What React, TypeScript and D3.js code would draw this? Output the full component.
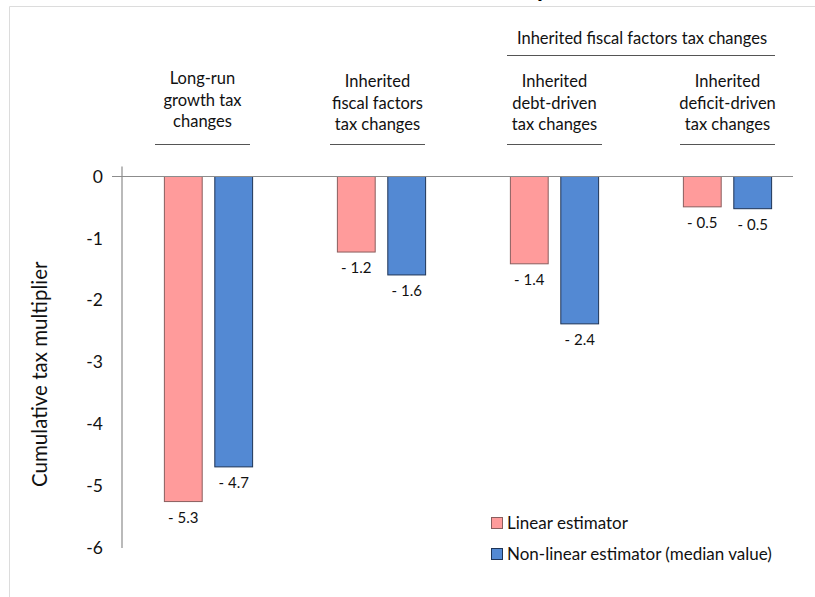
import React from "react";
import * as d3 from "d3";

const groups = ["longrun", "fiscal", "debt", "deficit"];
const groupLabels = [
    ["Long-run", "growth tax", "changes"],
    ["Inherited", "fiscal factors", "tax changes"],
    ["Inherited", "debt-driven", "tax changes"],
    ["Inherited", "deficit-driven", "tax changes"],
];
const superLabel = "Inherited fiscal factors tax changes";

const seriesNames = ["Linear estimator", "Non-linear estimator (median value)"];
const linearValues = [-5.25, -1.22, -1.41, -0.49];
const nonLinearValues = [-4.69, -1.59, -2.38, -0.52];
const yTicks = [0, -1, -2, -3, -4, -5, -6];

const colors = [
    {fill: "#FF9B9B", stroke: "#8A5E5E"},
    {fill: "#5389D3", stroke: "#1E3456"},
];

const W = 815;
const H = 597;
const font = "Lato, 'Open Sans', sans-serif";

const App: React.FC = () => {
    const x0 = d3.scaleBand<string>()
        .domain(groups)
        .range([122, 814])
        .paddingInner(0.49)
        .paddingOuter(0.245);

    const x1 = d3.scaleBand<number>()
        .domain([0, 1])
        .range([0, x0.bandwidth()])
        .paddingInner(0.25);

    const y = d3.scaleLinear().domain([0, -6]).range([176.5, 548]);

    const series = [linearValues, nonLinearValues];
    const fmt = (v: number) => "- " + Math.abs(v).toFixed(1);

    const axisX = 122;
    const underlineY = 144;
    const underW = 95;

    const c3 = x0(groups[2])! + x0.bandwidth() / 2;
    const c4 = x0(groups[3])! + x0.bandwidth() / 2;

    return (
        <div style={{position: "absolute", left: 0, top: 0}}>
            <svg width={W} height={H} style={{display: "block", background: "#fff"}}>
                {/* frame, with the foot of the cropped title showing above it */}
                <line x1={9.5} x2={W} y1={6.5} y2={6.5} stroke="#dcdcdc"/>
                <line x1={9.5} x2={9.5} y1={6.5} y2={H} stroke="#dcdcdc"/>
                <text x={537} y={-3} fontFamily={font} fontWeight="bold" fontSize={24} fill="#000">p</text>

                {/* super header */}
                <text x={(c3 + c4) / 2 + 1} y={44} textAnchor="middle" fontFamily={font} fontSize={16.5}
                      fill="#111">{superLabel}</text>
                <line x1={c3 - underW / 2} x2={c4 + underW / 2} y1={55.5} y2={55.5} stroke="#555"/>

                {/* group headers */}
                {groups.map((g, i) => {
                    const cx = x0(g)! + x0.bandwidth() / 2 - (i === 0 ? 6 : i === 1 ? 4 : 0);
                    const top = i === 0 ? 84 : 87;
                    return (
                        <g key={g}>
                            {groupLabels[i].map((t, j) => (
                                <text key={j} x={cx} y={top + j * 21.5} textAnchor="middle" fontFamily={font}
                                      fontSize={16.5} fill="#111">{t}</text>
                            ))}
                            <line x1={cx - underW / 2} x2={cx + underW / 2} y1={underlineY + 0.5}
                                  y2={underlineY + 0.5} stroke="#555"/>
                        </g>
                    );
                })}

                {/* y ticks */}
                {yTicks.map(t => (
                    <text key={t} x={103} y={y(t)} dy="0.35em" textAnchor="end" fontFamily={font} fontSize={17.5}
                          fill="#111">{t}</text>
                ))}
                <text transform={`translate(40,${(y(0) + y(-6)) / 2 + 12}) rotate(-90)`} textAnchor="middle"
                      dy="0.35em" fontFamily={font} fontSize={20.5} fill="#111">Cumulative tax multiplier</text>

                {/* bars */}
                {groups.map((g, i) => (
                    <g key={g} transform={`translate(${x0(g)},0)`}>
                        {series.map((vals, s) => {
                            const v = vals[i];
                            const bx = x1(s)!;
                            return (
                                <g key={s}>
                                    <rect x={bx} y={y(0)} width={x1.bandwidth()} height={y(v) - y(0)}
                                          fill={colors[s].fill} stroke={colors[s].stroke} strokeWidth={1}/>
                                    <text x={bx + x1.bandwidth() / 2} y={y(v) + 21} textAnchor="middle"
                                          fontFamily={font} fontSize={15} fill="#111">{fmt(v)}</text>
                                </g>
                            );
                        })}
                    </g>
                ))}

                {/* axes */}
                <line x1={112} x2={793} y1={y(0)} y2={y(0)} stroke="#8c8c8c" strokeWidth={1.2}/>
                <line x1={axisX} x2={axisX} y1={y(0) - 10} y2={y(-6)} stroke="#8c8c8c" strokeWidth={1.2}/>

                {/* legend */}
                {seriesNames.map((n, s) => (
                    <g key={n} transform={`translate(491,${517 + s * 31})`}>
                        <rect x={0.5} y={0.5} width={11} height={11} fill={colors[s].fill}
                              stroke={colors[s].stroke}/>
                        <text x={16} y={6} dy="0.35em" fontFamily={font} fontSize={17}
                              fill="#111">{n}</text>
                    </g>
                ))}
            </svg>
        </div>
    );
};

export default App;
